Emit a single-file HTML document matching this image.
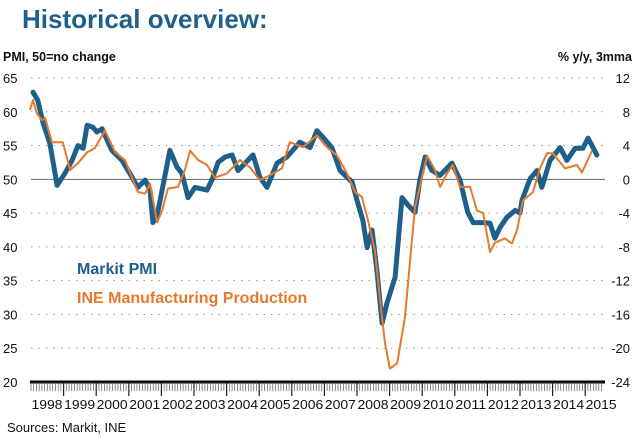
<!DOCTYPE html>
<html><head><meta charset="utf-8">
<style>
body{margin:0;background:#fff;width:640px;height:438px;overflow:hidden;font-family:"Liberation Sans",Arial,sans-serif;}
svg{display:block}
</style></head>
<body>
<svg id="chart" width="640" height="438" xmlns="http://www.w3.org/2000/svg">
<text x="22" y="28" font-size="26" font-weight="bold" fill="#1f5f8b">Historical overview:</text>
<text x="3" y="61" font-size="12.5" font-weight="bold" fill="#111">PMI, 50=no change</text>
<text x="632" y="61" font-size="12.5" font-weight="bold" fill="#111" text-anchor="end">% y/y, 3mma</text>
<g id="grid"></g><g id="axes"></g><g id="series"></g>
<text x="77" y="274" font-size="16" font-weight="bold" fill="#1f5f8b">Markit PMI</text>
<text x="77" y="303" font-size="16" font-weight="bold" fill="#e8782a">INE Manufacturing Production</text>
<text x="7" y="432" font-size="13" fill="#111">Sources: Markit, INE</text>
</svg>
<script>
const leftTicks=[65,60,55,50,45,40,35,30,25,20];
const rightTicks=[12,8,4,0,-4,-8,-12,-16,-20,-24];
const years=[1998,1999,2000,2001,2002,2003,2004,2005,2006,2007,2008,2009,2010,2011,2012,2013,2014,2015];
const pmiDates=[1998.06,1998.21,1998.37,1998.58,1998.80,1999.04,1999.26,1999.44,1999.60,1999.72,1999.90,2000.02,2000.18,2000.48,2000.79,2001.10,2001.28,2001.50,2001.65,2001.74,2001.87,2002.02,2002.26,2002.48,2002.63,2002.82,2003.03,2003.40,2003.55,2003.74,2003.95,2004.17,2004.35,2004.81,2005.02,2005.24,2005.55,2005.85,2006.25,2006.56,2006.77,2006.96,2007.23,2007.48,2007.85,2008.00,2008.18,2008.31,2008.46,2008.61,2008.77,2008.92,2009.17,2009.38,2009.56,2009.78,2009.93,2010.09,2010.30,2010.55,2010.91,2011.16,2011.40,2011.56,2011.87,2012.08,2012.23,2012.39,2012.60,2012.85,2013.00,2013.06,2013.31,2013.52,2013.67,2013.92,2014.23,2014.44,2014.69,2014.93,2015.09,2015.36];
const pmiValues=[62.9,61.7,58.3,55.3,49.1,50.9,52.8,55.0,54.6,58.0,57.7,57.0,57.5,54.3,52.8,50.3,48.8,49.9,48.4,43.6,44.7,48.4,54.3,51.8,50.9,47.3,48.8,48.4,49.9,52.5,53.3,53.6,51.3,53.6,50.3,48.8,52.4,53.3,55.5,54.7,57.2,56.2,54.7,51.3,49.6,46.9,43.9,39.9,42.5,36.5,28.7,31.7,35.5,47.3,46.2,45.1,49.9,53.3,51.3,50.6,52.4,49.9,45.1,43.6,43.6,43.5,41.3,42.9,44.4,45.4,45.0,46.9,50.1,51.3,48.8,52.8,54.7,52.8,54.6,54.6,56.1,53.6];
const ineDates=[1997.97,1998.06,1998.18,1998.34,1998.43,1998.64,1998.98,1999.20,1999.44,1999.72,1999.96,2000.27,2000.58,2000.88,2001.13,2001.28,2001.50,2001.65,2001.87,2002.02,2002.20,2002.51,2002.72,2002.88,2003.12,2003.40,2003.64,2004.01,2004.41,2004.72,2005.02,2005.33,2005.70,2005.94,2006.34,2006.77,2007.08,2007.39,2007.69,2007.94,2008.15,2008.34,2008.55,2008.71,2008.86,2009.01,2009.23,2009.47,2009.63,2009.78,2010.15,2010.39,2010.55,2010.76,2010.94,2011.16,2011.47,2011.68,2011.87,2012.08,2012.23,2012.54,2012.75,2012.91,2013.09,2013.40,2013.61,2013.83,2014.01,2014.38,2014.75,2014.90,2015.21];
const ineValues=[8.2,9.4,7.8,7.0,7.3,4.4,4.4,1.1,1.9,3.2,3.7,5.8,3.2,2.3,-0.1,-1.5,-1.7,-0.5,-5.1,-3.7,-1.1,-0.9,1.1,3.4,2.3,1.7,0.2,0.7,2.3,1.4,-0.1,0.5,1.3,4.4,3.8,5.2,3.8,2.8,0.7,-1.5,-2.1,-4.9,-8.4,-14.3,-19.4,-22.4,-21.8,-16.4,-9.6,-3.3,2.8,1.1,-0.9,0.7,1.7,-0.9,-0.9,-3.7,-4.0,-8.6,-7.5,-7.0,-7.6,-6.0,-2.5,-1.5,1.3,3.1,3.1,1.3,1.7,0.8,3.4];

const NS='http://www.w3.org/2000/svg';
const X0=31,PX=32.6,Y65=78,Y20=382,XEND=605;
const xs=t=>X0+(t-1998)*PX;
const yl=v=>Y65+(65-v)*(Y20-Y65)/45;
const yr=v=>Y65+(12-v)*(Y20-Y65)/36;
function mk(tag,attrs,parent){const e=document.createElementNS(NS,tag);for(const k in attrs)e.setAttribute(k,attrs[k]);parent.appendChild(e);return e;}
const grid=document.getElementById('grid'),axes=document.getElementById('axes'),series=document.getElementById('series');
leftTicks.forEach(v=>{
  const y=yl(v);
  if(v===50){const l=mk('line',{x1:X0,x2:XEND,y1:y,y2:y,stroke:'#666','stroke-width':1},grid);
    
    }
  else if(v!==20){const l=mk('line',{x1:X0,x2:XEND,y1:y,y2:y,stroke:'#999','stroke-width':1,'stroke-dasharray':'1.5 6'},grid);
    
    }
  const t=mk('text',{x:3,y:y+5,'font-size':13,fill:'#111'},axes);t.textContent=v;
  
  
});
rightTicks.forEach(v=>{
  const t=mk('text',{x:630,y:yr(v)+5,'font-size':13,fill:'#111','text-anchor':'end'},axes);t.textContent=v;
  
  
});
const base=mk('line',{x1:X0-1,x2:XEND,y1:Y20,y2:Y20,stroke:'#000','stroke-width':3},axes);


for(let m=0;m<=210;m++){
  const x=xs(1998+m/12);if(x>XEND)break;
  const major=m%12===0&&m>0;
  const l=mk('line',{x1:x,x2:x,y1:Y20,y2:Y20+(major?14:9),stroke:major?'#222':'#555','stroke-width':major?1.2:0.7},axes);
  
  
}
years.forEach(yv=>{
  const t=mk('text',{x:xs(yv)+16,y:409,'font-size':13,fill:'#111','text-anchor':'middle',textLength:31,lengthAdjust:'spacingAndGlyphs'},axes);t.textContent=yv;
  
  
});
const pmiPath=pmiDates.map((d,i)=>(i?'L':'M')+xs(d).toFixed(1)+' '+yl(pmiValues[i]).toFixed(1)).join('');
const p1=mk('path',{d:pmiPath,fill:'none',stroke:'#1f5f8b','stroke-width':5,'stroke-linejoin':'round','stroke-linecap':'round'},series);


const inePath=ineDates.map((d,i)=>(i?'L':'M')+xs(d).toFixed(1)+' '+yr(ineValues[i]).toFixed(1)).join('');
const p2=mk('path',{d:inePath,fill:'none',stroke:'#e8782a','stroke-width':2,'stroke-linejoin':'round'},series);


</script>
</body></html>
